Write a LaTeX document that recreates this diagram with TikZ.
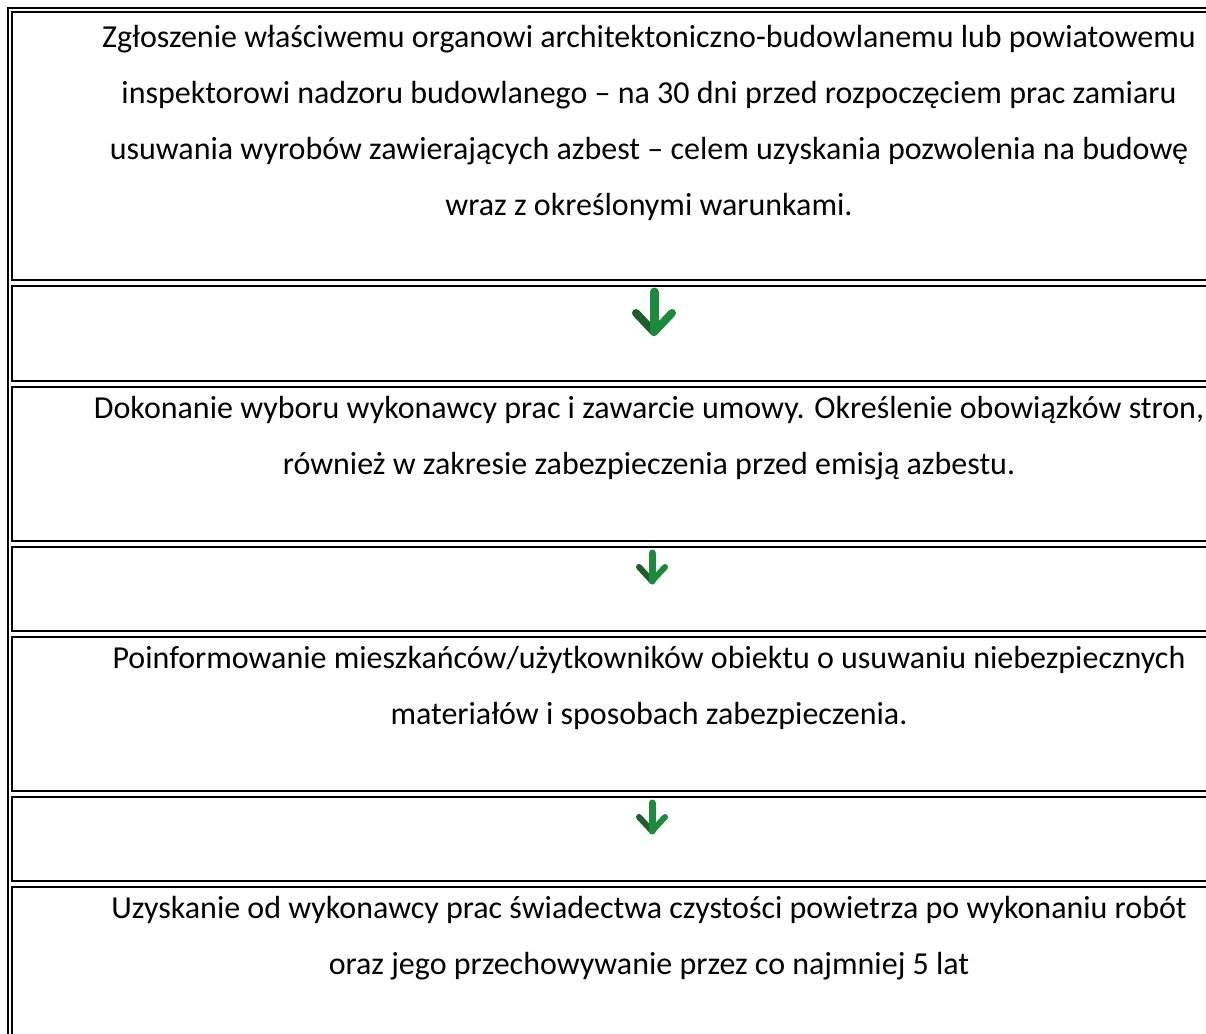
\documentclass[tikz,border=0pt]{standalone}
\usepackage{fontspec}
\setmainfont{Carlito}
\usetikzlibrary{positioning,fit,calc}
\definecolor{arrgreen}{RGB}{28,138,58}
\definecolor{arrdark}{RGB}{30,96,44}
\tikzset{
  cell/.style={draw,line width=2pt,minimum width=1274pt,minimum height=#1,inner sep=0pt,outer sep=0pt},
  celltext/.style={align=center,inner sep=0pt,outer sep=0pt,font=\fontsize{32}{56}\selectfont},
  frame/.style={draw,line width=2pt,inner sep=4pt,outer sep=0pt},
  greenarr/.style={line width=#1,line cap=round,line join=round},
}

\begin{document}
\begin{tikzpicture}[x=1pt,y=-1pt]
  \useasboundingbox (0,0) rectangle (1206,1033);
  \clip (0,0) rectangle (1206,1033);

  % Cells
  \node[cell=268pt,anchor=north west] (c1) at (12,12) {};
  \node[cell=95pt,below=6pt of c1] (a1) {};
  \node[cell=154pt,below=6pt of a1] (c3) {};
  \node[cell=84pt,below=6pt of c3] (a2) {};
  \node[cell=154pt,below=6pt of a2] (c5) {};
  \node[cell=84pt,below=6pt of c5] (a3) {};
  \node[cell=154pt,below=6pt of a3] (c7) {};
  \node[frame,fit=(c1)(c7)] (table) {};

  % Texts
  \node[celltext,below=13pt of c1.north] (t1) {Zgłoszenie właściwemu organowi architektoniczno-budowlanemu lub powiatowemu\\inspektorowi nadzoru budowlanego – na 30 dni przed rozpoczęciem prac zamiaru\\usuwania wyrobów zawierających azbest – celem uzyskania pozwolenia na budowę\\wraz z określonymi warunkami.};
  \node[celltext,below=9pt of c3.north] (t3) {Dokonanie wyboru wykonawcy prac i zawarcie umowy. Określenie obowiązków stron,\\również w zakresie zabezpieczenia przed emisją azbestu.};
  \node[celltext,below=9pt of c5.north] (t5) {Poinformowanie mieszkańców/użytkowników obiektu o usuwaniu niebezpiecznych\\materiałów i sposobach zabezpieczenia.};
  \node[celltext,below=9pt of c7.north] (t7) {Uzyskanie od wykonawcy prac świadectwa czystości powietrza po wykonaniu robót\\oraz jego przechowywanie przez co najmniej 5 lat};

  % Arrows
  \draw[greenarr=8pt,arrdark] ($(a1.north)+(-13,27)$) -- ++(18,19);
  \draw[greenarr=8pt,arrgreen] ($(a1.north)+(23,27)$) -- ++(-18,19);
  \draw[greenarr=9pt,arrgreen] ($(a1.north)+(5,6)$) -- ++(0,39);
  \foreach \a in {a2,a3} {
    \draw[greenarr=6pt,arrdark] ($(\a.north)+(-10,20)$) -- ++(13,14);
    \draw[greenarr=6pt,arrgreen] ($(\a.north)+(16,20)$) -- ++(-13,14);
    \draw[greenarr=7pt,arrgreen] ($(\a.north)+(3,6)$) -- ++(0,28);
  }
\end{tikzpicture}
\end{document}
